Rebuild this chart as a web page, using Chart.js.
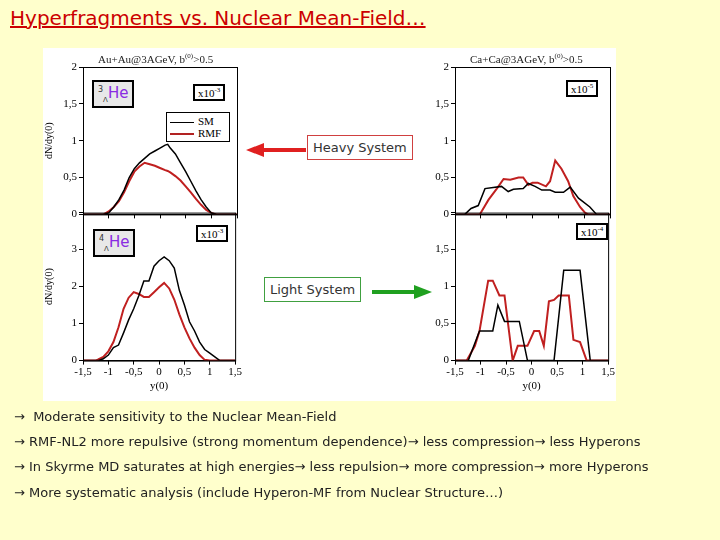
<!DOCTYPE html>
<html>
<head>
<meta charset="utf-8">
<script src="https://cdn.jsdelivr.net/npm/chart.js@4"></script>
<style>
body { margin: 0; width: 720px; height: 540px; background: #ffffcc; position: relative; overflow: hidden; font-family: "DejaVu Sans", sans-serif; }
.abs { position: absolute; }
#title { left: 10px; top: 6px; font-size: 20px; color: #cc0000; text-decoration: underline; }
#figure { left: 43px; top: 48px; width: 573px; height: 353px; background: #fff; }
canvas { position: absolute; }
.ptitle { font-family: "Liberation Serif", serif; font-size: 11px; color: #222; }
.scale { font-family: "Liberation Serif", serif; font-size: 11px; border: 2px solid #000; background: #fff; padding: 0 3px; }
.iso { border: 2px solid #000; background: #e8e8e8; color: #8a2be2; font-size: 15px; padding: 2px 4px; }
.legend { border: 1px solid #000; background: #fff; font-family: "Liberation Serif", serif; font-size: 11px; width: 56px; padding: 2px 3px; line-height: 12px; }
.legend span { display: inline-block; width: 24px; vertical-align: middle; margin-right: 4px; }
.sys { font-size: 13px; color: #333; background: #fff; padding: 4px 5px; }
.bullets { left: 14px; font-size: 13px; color: #222; }
</style>
</head>
<body>
<div id="title" class="abs">Hyperfragments vs. Nuclear Mean-Field…</div>
<div id="figure" class="abs"></div>
<canvas id="c1" style="left:43px;top:50px" width="200" height="173"></canvas>
<canvas id="c2" style="left:43px;top:204px" width="200" height="189"></canvas>
<canvas id="c3" style="left:415px;top:50px" width="201" height="173"></canvas>
<canvas id="c4" style="left:415px;top:204px" width="201" height="189"></canvas>

<div class="abs ptitle" style="left:98px;top:52px">Au+Au@3AGeV, b<sup style="font-size:7px">(0)</sup>&gt;0.5</div>
<div class="abs ptitle" style="left:470px;top:52px">Ca+Ca@3AGeV, b<sup style="font-size:7px">(0)</sup>&gt;0.5</div>
<div class="abs scale" style="left:193px;top:84px">x10<sup style="font-size:7px">-3</sup></div>
<div class="abs scale" style="left:196px;top:225px">x10<sup style="font-size:7px">-3</sup></div>
<div class="abs scale" style="left:566px;top:80px">x10<sup style="font-size:7px">-5</sup></div>
<div class="abs scale" style="left:576px;top:223px">x10<sup style="font-size:7px">-4</sup></div>
<div class="abs iso" style="left:92px;top:80px"><sup style="font-size:8px;color:#333">3</sup><sub style="font-size:7px;color:#333">Λ</sub>He</div>
<div class="abs iso" style="left:93px;top:229px"><sup style="font-size:8px;color:#333">4</sup><sub style="font-size:7px;color:#333">Λ</sub>He</div>
<div class="abs legend" style="left:166px;top:112px">
<div><span style="border-top:1px solid #000"></span>SM</div>
<div><span style="border-top:2px solid #b22222"></span>RMF</div>
</div>

<div class="abs sys" style="left:307px;top:135px;border:1px solid #d04040">Heavy System</div>
<div class="abs sys" style="left:264px;top:277px;border:1px solid #40a040">Light System</div>
<svg class="abs" style="left:0;top:0" width="720" height="540">
<line x1="306" y1="150" x2="262" y2="150" stroke="#e02020" stroke-width="4"/>
<polygon points="246,150 264,143 264,157" fill="#e02020"/>
<line x1="372" y1="292" x2="416" y2="292" stroke="#20a020" stroke-width="4"/>
<polygon points="432,292 414,285 414,299" fill="#20a020"/>
</svg>

<div class="abs bullets" style="top:409px">→&nbsp; Moderate sensitivity to the Nuclear Mean-Field</div>
<div class="abs bullets" style="top:434px">→ RMF-NL2 more repulsive (strong momentum dependence)→ less compression→ less Hyperons</div>
<div class="abs bullets" style="top:459px">→ In Skyrme MD saturates at high energies→ less repulsion→ more compression→ more Hyperons</div>
<div class="abs bullets" style="top:485px">→ More systematic analysis (include Hyperon-MF from Nuclear Structure…)</div>

<script>
// Au+Au, 3-Lambda-He (x10^-3)
const auHe3X = [-1.5, -1.1, -1.0, -0.9, -0.8, -0.7, -0.6, -0.5, -0.4, -0.3, -0.2, -0.1, 0, 0.1, 0.15, 0.2, 0.3, 0.4, 0.5, 0.6, 0.7, 0.8, 0.9, 1.0, 1.1, 1.5];
const auHe3SM = [0, 0, 0.02, 0.1, 0.2, 0.33, 0.5, 0.62, 0.7, 0.76, 0.82, 0.86, 0.9, 0.94, 0.95, 0.9, 0.82, 0.7, 0.58, 0.45, 0.32, 0.2, 0.1, 0.02, 0, 0];
const auHe3RMF = [0, 0, 0.04, 0.1, 0.18, 0.3, 0.45, 0.58, 0.65, 0.7, 0.68, 0.66, 0.63, 0.6, 0.59, 0.57, 0.52, 0.46, 0.38, 0.3, 0.21, 0.13, 0.06, 0.02, 0, 0];

// Au+Au, 4-Lambda-He (x10^-3)
const auHe4X = [-1.5, -1.25, -1.2, -1.1, -1.0, -0.9, -0.8, -0.7, -0.6, -0.5, -0.4, -0.3, -0.2, -0.1, 0, 0.1, 0.2, 0.3, 0.4, 0.5, 0.6, 0.7, 0.8, 0.9, 1.0, 1.1, 1.2, 1.5];
const auHe4SM = [0, 0, 0, 0.05, 0.15, 0.35, 0.42, 0.75, 1.1, 1.4, 1.75, 2.15, 2.15, 2.55, 2.7, 2.8, 2.7, 2.5, 1.9, 1.5, 1.05, 0.8, 0.5, 0.3, 0.2, 0.1, 0, 0];
const auHe4RMF = [0, 0, 0.03, 0.1, 0.25, 0.5, 0.9, 1.4, 1.7, 1.85, 1.8, 1.72, 1.72, 1.85, 1.98, 2.1, 1.95, 1.65, 1.25, 0.9, 0.6, 0.35, 0.15, 0.02, 0, 0, 0, 0];

// Ca+Ca, 3-Lambda-He (x10^-5)
const caHe3SMX = [-1.5, -1.31, -1.19, -1.05, -0.92, -0.6, -0.47, -0.37, -0.18, -0.08, 0.05, 0.18, 0.34, 0.44, 0.6, 0.73, 0.89, 1.11, 1.24, 1.5];
const caHe3SM = [0, 0, 0.08, 0.12, 0.35, 0.38, 0.31, 0.34, 0.35, 0.42, 0.38, 0.33, 0.33, 0.3, 0.3, 0.37, 0.22, 0.1, 0, 0];
const caHe3RMFX = [-1.5, -1.02, -0.85, -0.69, -0.56, -0.43, -0.27, -0.18, -0.08, 0.0, 0.1, 0.26, 0.34, 0.44, 0.56, 0.69, 0.79, 0.92, 1.02, 1.08, 1.5];
const caHe3RMF = [0, 0, 0.2, 0.35, 0.48, 0.47, 0.5, 0.5, 0.4, 0.43, 0.43, 0.38, 0.45, 0.73, 0.62, 0.45, 0.25, 0.1, 0.02, 0, 0];

// Ca+Ca, 4-Lambda-He (x10^-4)
const caHe4SMX = [-1.5, -1.24, -1.02, -0.76, -0.66, -0.53, -0.24, -0.08, 0.44, 0.63, 0.95, 1.15, 1.5];
const caHe4SM = [0, 0, 0.4, 0.4, 0.75, 0.53, 0.53, 0, 0, 1.22, 1.22, 0, 0];
const caHe4RMFX = [-1.5, -1.27, -1.11, -1.02, -0.85, -0.76, -0.63, -0.53, -0.37, -0.27, -0.08, 0.05, 0.15, 0.24, 0.34, 0.44, 0.53, 0.73, 0.82, 0.95, 1.08, 1.5];
const caHe4RMF = [0, 0, 0.2, 0.4, 1.08, 1.08, 0.88, 0.88, 0, 0.2, 0.2, 0.4, 0.4, 0.2, 0.8, 0.82, 0.88, 0.88, 0.28, 0.25, 0, 0];

const pts = (xs, ys) => xs.map((x, i) => ({ x, y: ys[i] }));
const comma = v => String(v).replace('.', ',');

const frame = {
    id: 'frame',
    afterDraw(chart) {
        const a = chart.chartArea, ctx = chart.ctx;
        ctx.save();
        ctx.strokeStyle = '#000';
        ctx.lineWidth = 1;
        ctx.strokeRect(a.left + 0.5, a.top + 0.5, a.right - a.left, a.bottom - a.top);
        ctx.restore();
    },
};

function panel(id, black, red, yMax, yStep, withX, yTitle) {
    const font = { family: 'Liberation Serif', size: 11 };
    return new Chart(document.getElementById(id), {
        type: 'line',
        data: {
            datasets: [
                { data: black, borderColor: '#000', borderWidth: 1.5, pointRadius: 0, tension: 0 },
                { data: red, borderColor: '#c02020', borderWidth: 2, pointRadius: 0, tension: 0 },
            ],
        },
        options: {
            responsive: false,
            animation: false,
            layout: { padding: { top: withX ? 0 : 17, right: 6 } },
            plugins: { legend: { display: false }, tooltip: { enabled: false } },
            scales: {
                x: {
                    type: 'linear', min: -1.5, max: 1.5,
                    grid: { drawOnChartArea: false, color: '#000', tickLength: 4 },
                    border: { color: '#000' },
                    ticks: { display: withX, stepSize: 0.5, color: '#000', font, padding: 1, callback: comma },
                    title: { display: withX, text: 'y(0)', color: '#000', font, padding: 0 },
                    afterFit: s => { if (!withX) s.height = 1; },
                },
                y: {
                    min: 0, max: yMax,
                    grid: { drawOnChartArea: false, color: '#000', tickLength: 4 },
                    border: { color: '#000' },
                    ticks: { stepSize: yStep, color: '#000', font, padding: 2,
                        callback: v => (withX && v === yMax ? '' : comma(v)) },
                    title: { display: !!yTitle, text: yTitle || '', color: '#000', font: { ...font, size: 10 }, padding: 0 },
                    afterFit: s => { s.width = 40; },
                },
            },
        },
        plugins: [frame],
    });
}

panel('c1', pts(auHe3X, auHe3SM), pts(auHe3X, auHe3RMF), 2, 0.5, false, 'dN/dy(0)');
panel('c2', pts(auHe4X, auHe4SM), pts(auHe4X, auHe4RMF), 4, 1, true, 'dN/dy(0)');
panel('c3', pts(caHe3SMX, caHe3SM), pts(caHe3RMFX, caHe3RMF), 2, 0.5, false, '');
panel('c4', pts(caHe4SMX, caHe4SM), pts(caHe4RMFX, caHe4RMF), 2, 0.5, true, '');
</script>
</body>
</html>
